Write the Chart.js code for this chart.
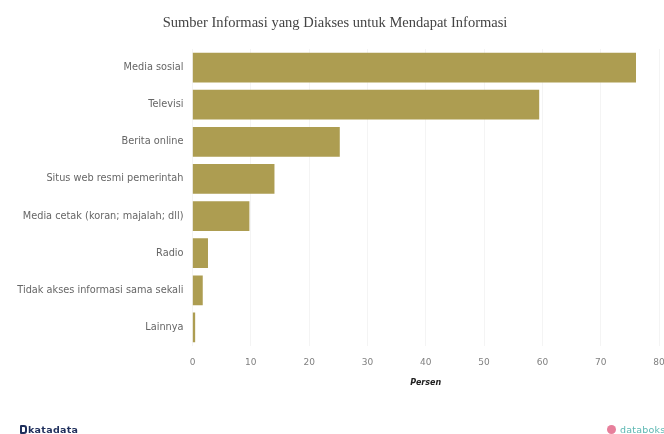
<!DOCTYPE html>
<html lang="id">
<head>
<meta charset="utf-8">
<title>Sumber Informasi</title>
<script src="https://cdn.jsdelivr.net/npm/chart.js@4"></script>
<style>
  html, body { margin: 0; padding: 0; background: #fff; }
  .wrap { position: relative; width: 664px; height: 434px; overflow: hidden; }
  .brand { position: absolute; top: 424px; font-family: "DejaVu Sans", sans-serif; font-size: 9.5px; line-height: 11px; white-space: nowrap; }
  .katadata { left: 20px; color: #1f2f5c; font-weight: bold; letter-spacing: 0.3px; }
  .katadata i { display: inline-block; width: 7px; height: 9px; margin-right: 1px; border: 2px solid #1f2f5c; border-radius: 1px 3px 3px 1px; box-sizing: border-box; vertical-align: -1px; }
  .databoks { left: 607px; color: #5bb7b2; letter-spacing: 0.2px; }
  .databoks i { display: inline-block; width: 9px; height: 9px; margin-right: 4px; border-radius: 50%; background: #e77f9b; vertical-align: -1px; }
</style>
</head>
<body>
<div class="wrap">
  <canvas id="chart" width="664" height="434"></canvas>
  <div class="brand katadata"><i></i>katadata</div>
  <div class="brand databoks"><i></i>databoks</div>
</div>
<script>
const titleText = "Sumber Informasi yang Diakses untuk Mendapat Informasi";
const axisTitle = "Persen";
const categories = [
  "Media sosial",
  "Televisi",
  "Berita online",
  "Situs web resmi pemerintah",
  "Media cetak (koran; majalah; dll)",
  "Radio",
  "Tidak akses informasi sama sekali",
  "Lainnya"
];
const shares = [76, 59.4, 25.2, 14, 9.7, 2.6, 1.7, 0.4];

const labelFont = { family: "'DejaVu Sans', sans-serif", size: 9.75 };
const tickFont = { family: "'DejaVu Sans', sans-serif", size: 9 };

new Chart(document.getElementById("chart"), {
  type: "bar",
  data: {
    labels: categories,
    datasets: [{
      label: axisTitle,
      data: shares,
      backgroundColor: "#ad9d51",
      borderWidth: 0,
      barThickness: 29
    }]
  },
  options: {
    indexAxis: "y",
    responsive: false,
    animation: false,
    // left padding nudges the centred title over; the axis widths below pin the plot
    layout: { padding: { top: 14, right: 0, bottom: 46, left: 6 } },
    plugins: {
      legend: { display: false },
      tooltip: { enabled: false },
      title: {
        display: true,
        text: titleText,
        color: "#444",
        font: { family: "'Liberation Serif', serif", size: 14.5, weight: "normal" },
        padding: { top: 0, bottom: 17.6 }
      }
    },
    scales: {
      x: {
        min: 0,
        max: 80,
        grid: { color: "#f4f4f4", drawTicks: false },
        border: { display: false },
        ticks: { stepSize: 10, color: "#808080", font: tickFont, padding: 11, maxRotation: 0 },
        title: {
          display: true,
          text: axisTitle,
          color: "#222",
          font: { family: "'DejaVu Sans', sans-serif", size: 8, weight: "bold", style: "italic" },
          padding: { top: 4, bottom: 0 }
        },
        afterFit: (scale) => { scale.height = 42; scale.paddingRight = 5; }
      },
      y: {
        grid: { display: false },
        border: { display: false },
        ticks: { color: "#666", font: labelFont, padding: 1, autoSkip: false },
        afterFit: (scale) => { scale.width = 186.5; }
      }
    }
  }
});
</script>
</body>
</html>
